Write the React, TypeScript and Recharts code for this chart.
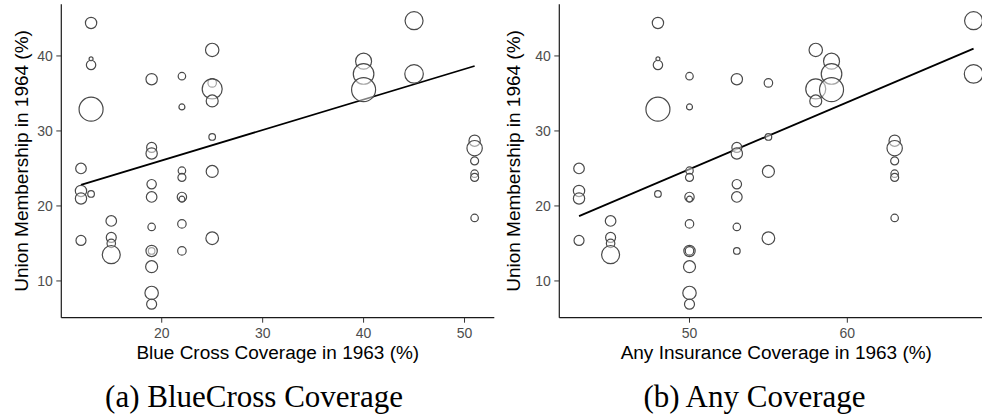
import React from 'react';
import { ScatterChart, Scatter, XAxis, YAxis, ZAxis, ReferenceLine } from 'recharts';

// one entry per state, same order in every array
const blueCross = [
  12, 12, 12, 12,
  13, 13, 13, 13, 13,
  15, 15, 15, 15,
  19, 19, 19, 19, 19, 19, 19,
  19, 19, 19, 19,
  22, 22, 22, 22, 22, 22, 22, 22,
  25, 25, 25, 25,
  25, 25, 25,
  40, 40, 40,
  45, 45,
  51, 51, 51, 51, 51, 51,
];
const anyCoverage = [
  43, 43, 43, 43,
  48, 48, 48, 48, 48,
  45, 45, 45, 45,
  53, 53, 53, 53, 53, 53, 53,
  50, 50, 50, 50,
  50, 50, 50, 50, 50, 50, 50, 50,
  55, 55, 55, 55,
  58, 58, 58,
  59, 59, 59,
  68, 68,
  63, 63, 63, 63, 63, 63,
];
const unionMembership = [
  25.0, 22.0, 21.0, 15.4,
  44.4, 39.6, 38.8, 32.9, 21.6,
  18.0, 15.8, 15.0, 13.5,
  36.9, 27.8, 27.0, 22.9, 21.2, 17.2, 14.0,
  14.0, 11.9, 8.4, 6.9,
  37.3, 33.2, 24.7, 23.8, 21.2, 20.9, 17.6, 14.0,
  36.4, 29.2, 24.6, 15.7,
  40.8, 35.6, 34.0,
  39.3, 37.6, 35.5,
  44.7, 37.6,
  28.7, 27.7, 26.0, 24.3, 23.8, 18.4,
];
const stateWeight = [
  28, 32, 32, 25,
  32, 4, 22, 144, 11,
  28, 25, 18, 81,
  32, 25, 32, 22, 28, 14, 11,
  32, 36, 45, 25,
  14, 9, 14, 16, 22, 9, 18, 18,
  18, 11, 36, 40,
  45, 100, 36,
  64, 106, 144,
  81, 86,
  32, 59, 16, 14, 16, 14,
];

const blueCrossFit = [{ x: 12, y: 22.8 }, { x: 51, y: 38.66 }];
const anyFit = [{ x: 43, y: 18.65 }, { x: 68, y: 40.98 }];

const unionTicks = [10, 20, 30, 40];
const blueTicks = [20, 30, 40, 50];
const anyTicks = [50, 60];

const rows = unionMembership.map((u, i) => ({
  blue: blueCross[i],
  any: anyCoverage[i],
  union: u,
  w: stateWeight[i],
}));

const SANS = '"Liberation Sans", Arial, sans-serif';
const SERIF = '"Liberation Serif", "Times New Roman", serif';

type PanelProps = {
  xKey: string;
  domain: [number, number];
  ticks: number[];
  fit: { x: number; y: number }[];
  title: string;
  left: number;
  plotWidth: number;
  yLabelDx: number;
};

const Panel = ({ xKey, domain, ticks, fit, title, left, plotWidth, yLabelDx }: PanelProps) => {
  const yAxisWidth = 61.3;
  const width = yAxisWidth + plotWidth + 6;
  return (
    <div style={{ position: 'absolute', left, top: 0 }}>
      <ScatterChart
        width={width}
        height={370}
        margin={{ top: 4.2, right: 6, bottom: 0, left: 0 }}
        style={{ fontFamily: SANS }}
      >
        <XAxis
          type="number"
          dataKey={xKey}
          domain={domain}
          ticks={ticks}
          allowDataOverflow
          height={52.3}
          tickSize={5}
          tickMargin={5}
          axisLine={{ stroke: '#1a1a1a', strokeWidth: 1.2 }}
          tickLine={{ stroke: '#333' }}
          tick={{ fontSize: 14, fill: '#4d4d4d' }}
          label={{ value: title, position: 'insideBottom', offset: 11, fontSize: 19, fill: '#000' }}
        />
        <YAxis
          type="number"
          dataKey="union"
          domain={[5.1, 46.9]}
          ticks={unionTicks}
          allowDataOverflow
          width={yAxisWidth}
          tickSize={5}
          tickMargin={3.6}
          axisLine={{ stroke: '#1a1a1a', strokeWidth: 1.2 }}
          tickLine={{ stroke: '#333' }}
          tick={{ fontSize: 14, fill: '#4d4d4d' }}
          label={{
            value: 'Union Membership in 1964 (%)',
            angle: -90,
            position: 'center',
            dx: yLabelDx,
            fontSize: 19,
            fill: '#000',
          }}
        />
        <ZAxis type="number" dataKey="w" domain={[0, 144]} range={[0, 144 * Math.PI]} />
        <Scatter
          data={rows}
          fill="#fff"
          fillOpacity={0.5}
          stroke="#4a4a4a"
          strokeWidth={1.2}
          isAnimationActive={false}
        />
        <ReferenceLine
          segment={fit}
          stroke="#000"
          strokeWidth={1.8}
          ifOverflow="visible"
        />
      </ScatterChart>
    </div>
  );
};

const App = () => {
  return (
    <div
      style={{
        position: 'absolute',
        left: 0,
        top: 0,
        width: 982,
        height: 416,
        overflow: 'hidden',
        background: '#fff',
      }}
    >
      <Panel
        xKey="blue"
        domain={[10.05, 52.95]}
        ticks={blueTicks}
        fit={blueCrossFit}
        title="Blue Cross Coverage in 1963 (%)"
        left={0}
        plotWidth={433}
        yLabelDx={-9.5}
      />
      <Panel
        xKey="any"
        domain={[41.75, 69.25]}
        ticks={anyTicks}
        fit={anyFit}
        title="Any Insurance Coverage in 1963 (%)"
        left={498.2}
        plotWidth={434}
        yLabelDx={-15}
      />
      <svg
        width={982}
        height={416}
        style={{ position: 'absolute', left: 0, top: 0, pointerEvents: 'none' }}
      >
        <text x={254} y={406.7} textAnchor="middle" fontFamily={SERIF} fontSize={31} fill="#000">
          (a) BlueCross Coverage
        </text>
        <text x={754.5} y={406.7} textAnchor="middle" fontFamily={SERIF} fontSize={31} fill="#000">
          (b) Any Coverage
        </text>
      </svg>
    </div>
  );
};

export default App;
